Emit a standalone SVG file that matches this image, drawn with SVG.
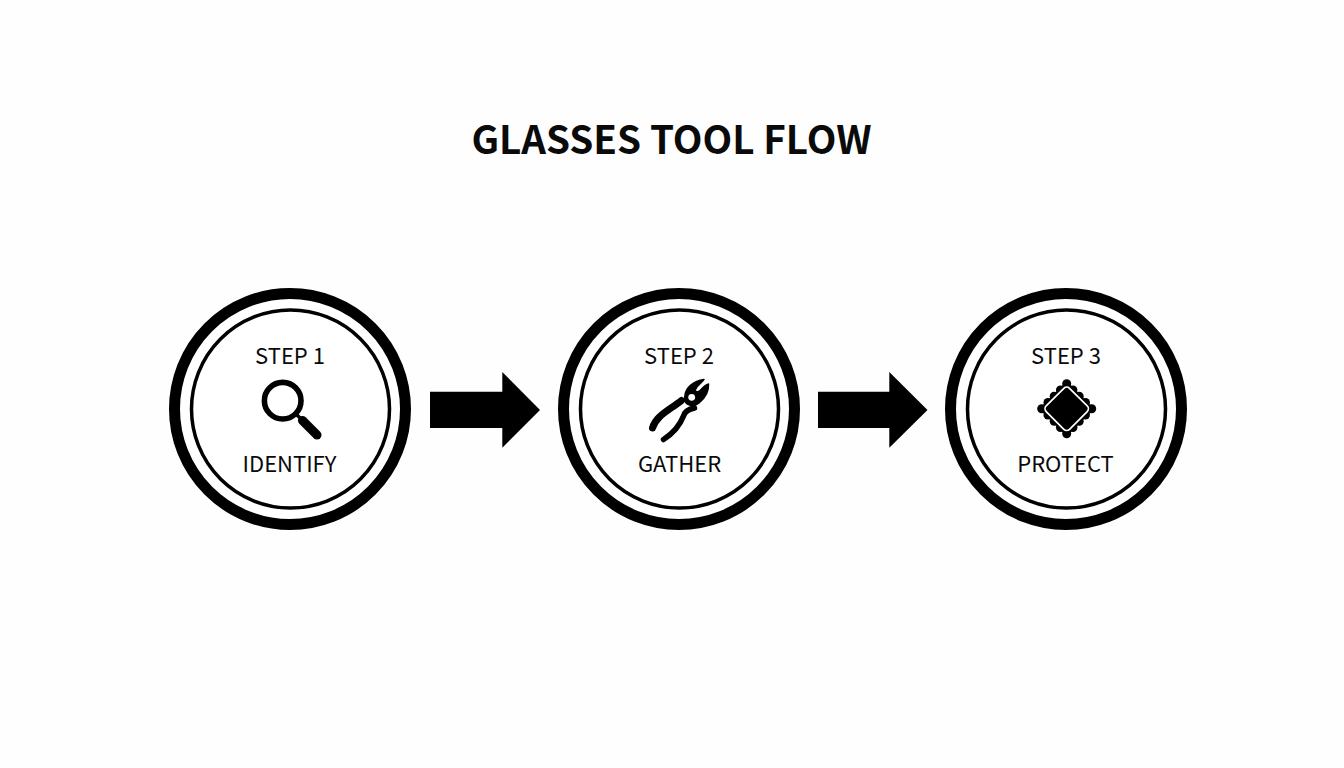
<svg xmlns="http://www.w3.org/2000/svg" width="1344" height="768" viewBox="0 0 1344 768">
<style>
.outer{fill:#fff;stroke:#000;stroke-width:11}
.inner{fill:#fff;stroke:#000;stroke-width:3.5}
text{font-family:"Noto Sans CJK SC","Noto Sans",sans-serif;fill:#0a0a0a;text-anchor:middle}
.lab{font-size:22px}
.title{font-size:38.600px;font-weight:700}
.ink{fill:none;stroke:#000;stroke-linecap:round;stroke-linejoin:round}
</style>
<rect width="1344" height="768" fill="#fdfefd"/>
<text id="title" class="title" x="671.500" y="154">GLASSES TOOL FLOW</text>
<g id="connectors">
<path id="arrow-1" d="M430 391.700H502.300V372L540 410L502.300 447.700V428H430Z" fill="#000"/>
<path id="arrow-2" d="M818 391.700H889.300V372L927.500 410L889.300 447.700V428H818Z" fill="#000"/>
</g>
<g id="step-1">
<circle class="outer" cx="290" cy="409" r="115.500"/>
<circle class="inner" cx="290.500" cy="409" r="99"/>
<text class="lab" x="290" y="364">STEP 1</text>
<circle class="ink" cx="282.700" cy="400.700" r="18.300" stroke-width="5.600"/>
<path class="ink" d="M296 414L302 420" stroke-width="3.500"/>
<path class="ink" d="M302.500 420.500L317 435" stroke-width="9"/>
<text class="lab" x="289.500" y="471.500">IDENTIFY</text>
</g>
<g id="step-2">
<circle class="outer" cx="679" cy="409" r="115.500"/>
<circle class="inner" cx="679.500" cy="409" r="99"/>
<text class="lab" x="679" y="364">STEP 2</text>
<path class="ink" d="M652.500 428C656 416 668 411 681.500 400.500" stroke-width="7"/>
<path class="ink" d="M663.500 439.500C672 434 680 425 683.500 416C685 411 689 409 694.500 408" stroke-width="5.500"/>
<path d="M685 395C686 388 693 381 704 379.500C702 383 697 385 695.500 389.500C694.500 392 698 392.500 700 390.500C702.500 388 705 385 708.500 384C709 391 705 398 699 403C695 406.500 690 406 687 404C684.500 402 684.500 398 685 395Z" fill="#000" stroke="#000" stroke-width="1.500" stroke-linejoin="round"/>
<circle cx="691.700" cy="397.300" r="3.400" fill="#fff"/>
<text class="lab" x="679.500" y="471.500">GATHER</text>
</g>
<g id="step-3">
<circle class="outer" cx="1066" cy="409" r="115.500"/>
<circle class="inner" cx="1066.500" cy="409" r="99"/>
<text class="lab" x="1066" y="364">STEP 3</text>
<rect x="1047.200" y="389.300" width="39" height="39" rx="3" transform="rotate(45 1066.700 408.800)" fill="#000"/>
<g fill="#000">
<circle cx="1091.700" cy="408.800" r="4.500"/><circle cx="1041.700" cy="408.800" r="4.500"/>
<circle cx="1066.700" cy="383.800" r="4.500"/><circle cx="1066.700" cy="433.800" r="4.500"/>
<circle cx="1085.450" cy="402.550" r="4.500"/><circle cx="1047.950" cy="402.550" r="4.500"/><circle cx="1085.450" cy="415.050" r="4.500"/><circle cx="1047.950" cy="415.050" r="4.500"/>
<circle cx="1079.200" cy="396.300" r="4.500"/><circle cx="1054.200" cy="396.300" r="4.500"/><circle cx="1079.200" cy="421.300" r="4.500"/><circle cx="1054.200" cy="421.300" r="4.500"/>
<circle cx="1072.950" cy="390.050" r="4.500"/><circle cx="1060.450" cy="390.050" r="4.500"/><circle cx="1072.950" cy="427.550" r="4.500"/><circle cx="1060.450" cy="427.550" r="4.500"/>
</g>
<rect x="1050.200" y="392.300" width="33" height="33" rx="4" transform="rotate(45 1066.700 408.800)" fill="none" stroke="#fff" stroke-width="1.700"/>
<text class="lab" x="1065.500" y="471.500">PROTECT</text>
</g>
</svg>
